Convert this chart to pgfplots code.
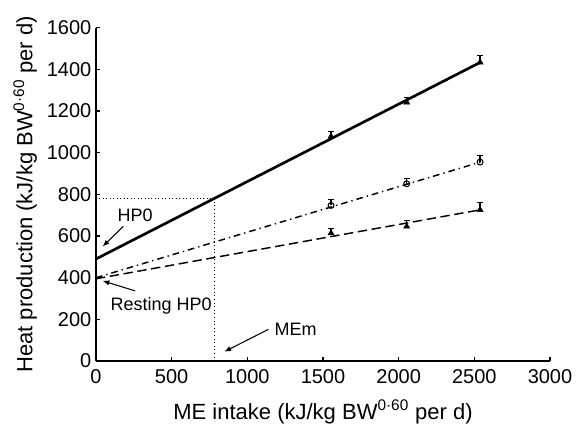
\documentclass[border=0pt]{standalone}
\usepackage{fontspec}
\setmainfont{Liberation Sans}
\usepackage{pgfplots}
\pgfplotsset{compat=1.18}
\usetikzlibrary{arrows.meta}

\begin{document}
\begin{tikzpicture}
\begin{axis}[
    scale only axis,
    width=340.5pt, height=250pt,
    xmin=0, xmax=3000,
    ymin=0, ymax=1600,
    xtick={0,500,...,3000},
    ytick={0,200,...,1600},
    axis x line*=bottom,
    axis y line*=left,
    axis line style={line width=1.4pt},
    tick style={line width=1pt, black},
    tick align=inside,
    major tick length=3pt,
    /pgf/number format/assume math mode=true,
    /pgf/number format/set thousands separator={},
    ticklabel style={font=\fontsize{15}{17}\selectfont},
    xticklabel style={yshift=-3pt},
    label style={font=\fontsize{16.5}{19}\selectfont},
    xlabel={ME intake (kJ/kg BW\textsuperscript{0·60} per d)},
    ylabel={Heat production (kJ/kg BW\textsuperscript{0·60} per d)},
    xlabel style={at={(axis description cs:0.5,-0.153)}, anchor=center},
    ylabel style={at={(axis description cs:-0.156,0.5)}, anchor=center},
    clip=false,
]
% guide lines at MEm
\addplot[black, line width=0.6pt, dotted] coordinates {(0,780) (780,780)};
\addplot[black, line width=0.7pt, dotted] coordinates {(780,0) (780,780)};

% regression lines
\addplot[black, line width=2pt] coordinates {(0,490) (2540,1434)};
\addplot[black, line width=1.1pt, dash pattern=on 5pt off 3pt on 1pt off 3pt] coordinates {(0,400) (2540,955)};
\addplot[black, line width=1.1pt, dash pattern=on 7pt off 3.5pt] coordinates {(0,395) (2540,726)};

% observed means with upward error bars
\pgfplotsset{ebar/.style={error bars/.cd, y dir=plus, y explicit,
    error bar style={line width=0.9pt},
    error mark options={line width=0.9pt, mark size=2.2pt, rotate=90}}}
\addplot[only marks, mark=triangle*, mark size=2.6pt, black, ebar]
    coordinates {(1553,1078) +- (0,24) (2053,1242) +- (0,24) (2538,1434) +- (0,34)};
\addplot[only marks, mark=o, mark size=2.2pt, black, mark options={fill=white, line width=0.8pt}, ebar]
    coordinates {(1553,747) +- (0,27) (2053,851) +- (0,27) (2538,955) +- (0,32)};
\addplot[only marks, mark=triangle*, mark size=2.6pt, black, ebar]
    coordinates {(1553,614) +- (0,24) (2053,646) +- (0,29) (2538,726) +- (0,35)};

% annotations
\node[font=\fontsize{13.5}{16}\selectfont] at (axis cs:258,702) {HP0};
\draw[-{Latex[length=5pt,width=4pt]}, line width=0.8pt] (axis cs:180,646) -- (axis cs:44,550);
\node[font=\fontsize{13.5}{16}\selectfont, anchor=west] at (axis cs:65,264) {Resting HP0};
\draw[-{Latex[length=5pt,width=4pt]}, line width=0.8pt] (axis cs:258,337) -- (axis cs:44,385);
\node[font=\fontsize{13.5}{16}\selectfont, anchor=west] at (axis cs:1150,154) {MEm};
\draw[-{Latex[length=5pt,width=4pt]}, line width=0.8pt] (axis cs:1139,152) -- (axis cs:848,45);

\coordinate (bl) at (rel axis cs:0,0);
\coordinate (tr) at (rel axis cs:1,1);
\end{axis}
\pgfresetboundingbox
\path[use as bounding box] ([xshift=-72pt,yshift=-51.75pt]bl) rectangle ([xshift=21pt,yshift=20.8pt]tr);
\end{tikzpicture}
\end{document}
